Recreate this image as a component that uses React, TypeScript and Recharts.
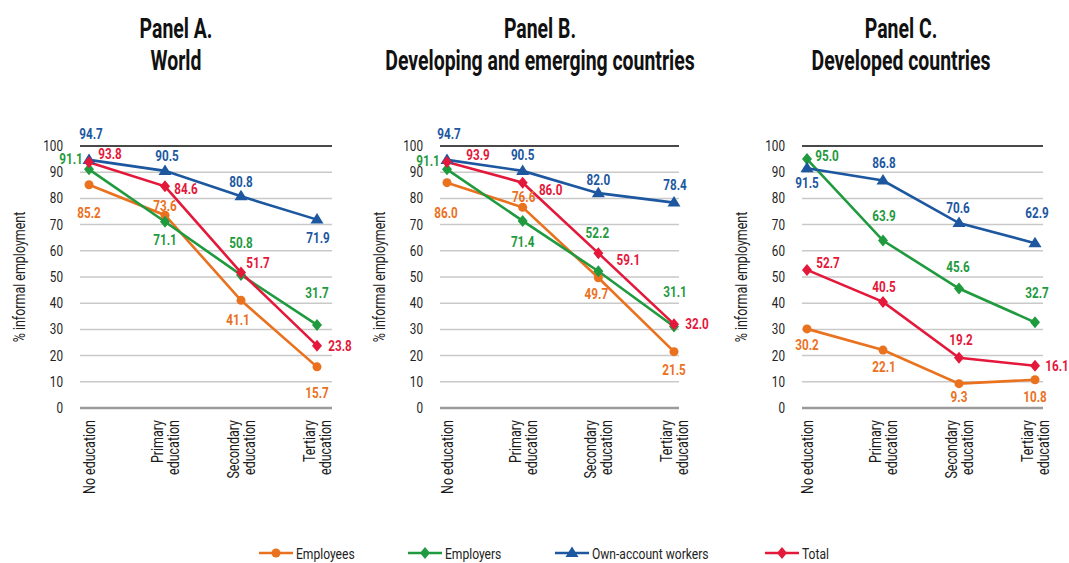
import React from "react";
import {
  CartesianGrid,
  Label,
  LabelList,
  Line,
  LineChart,
  ReferenceLine,
  XAxis,
  YAxis,
} from "recharts";

const categories = [
  "No education",
  "Primary\neducation",
  "Secondary\neducation",
  "Tertiary\neducation",
];
const yTicks = [0, 10, 20, 30, 40, 50, 60, 70, 80, 90, 100];

// Panel A. World
const worldEmployees = [85.2, 73.6, 41.1, 15.7];
const worldEmployers = [91.1, 71.1, 50.8, 31.7];
const worldOwnAccount = [94.7, 90.5, 80.8, 71.9];
const worldTotal = [93.8, 84.6, 51.7, 23.8];

// Panel B. Developing and emerging countries
const devEmployees = [86.0, 76.6, 49.7, 21.5];
const devEmployers = [91.1, 71.4, 52.2, 31.1];
const devOwnAccount = [94.7, 90.5, 82.0, 78.4];
const devTotal = [93.9, 86.0, 59.1, 32.0];

// Panel C. Developed countries
const dedEmployees = [30.2, 22.1, 9.3, 10.8];
const dedEmployers = [95.0, 63.9, 45.6, 32.7];
const dedOwnAccount = [91.5, 86.8, 70.6, 62.9];
const dedTotal = [52.7, 40.5, 19.2, 16.1];

// no condensed font installed, so Roboto gets squeezed horizontally
const FONT = "Roboto, 'Liberation Sans', sans-serif";
const SQUEEZE = 0.78;

type Shape = "circle" | "diamond" | "triangle";

const series: { key: string; name: string; color: string; shape: Shape }[] = [
  { key: "emp", name: "Employees", color: "#EA711E", shape: "circle" },
  { key: "empr", name: "Employers", color: "#1F9A3E", shape: "diamond" },
  { key: "own", name: "Own-account workers", color: "#1C579F", shape: "triangle" },
  { key: "total", name: "Total", color: "#E3183B", shape: "diamond" },
];

function buildData(emp: number[], empr: number[], own: number[], total: number[]) {
  return categories.map((cat, i) => ({
    cat,
    emp: emp[i],
    empr: empr[i],
    own: own[i],
    total: total[i],
  }));
}

// label offsets from each point: [dx, dy]
type Offsets = Record<string, [number, number][]>;

const offsetsA: Offsets = {
  emp: [[0, 28], [0, -9], [-3, 20], [0, 26]],
  empr: [[-18, -10], [0, 18], [0, -32], [0, -32]],
  own: [[2, -26], [2, -15], [0, -14], [1, 18]],
  total: [[21, -8], [21, 3], [17, -10], [23, 0]],
};
const offsetsB: Offsets = {
  emp: [[-1, 30], [1, -10], [-2, 16], [0, 18]],
  empr: [[-19, -8], [0, 21], [-1, -38], [1, -35]],
  own: [[2, -26], [0, -16], [0, -13], [1, -18]],
  total: [[31, -7], [28, 7], [30, 7], [23, 0]],
};
const offsetsC: Offsets = {
  emp: [[0, 16], [1, 17], [0, 13], [0, 17]],
  empr: [[20, -3], [1, -25], [-1, -22], [2, -29]],
  own: [[0, 15], [1, -18], [-1, -15], [2, -30]],
  total: [[21, -7], [1, -15], [2, -18], [22, 0]],
};

function CText({
  x,
  y,
  children,
  anchor = "middle",
  size = 14,
  weight = "normal",
  fill = "#222",
  rotate = 0,
  sx = SQUEEZE,
}: any) {
  return (
    <text
      transform={`translate(${x},${y}) rotate(${rotate}) scale(${sx},1)`}
      textAnchor={anchor}
      dominantBaseline="central"
      fontFamily={FONT}
      fontSize={size}
      fontWeight={weight}
      fill={fill}
    >
      {children}
    </text>
  );
}

function Marker({ cx, cy, shape, color }: any) {
  if (cx == null || cy == null) return null;
  if (shape === "circle") return <circle cx={cx} cy={cy} r={4.5} fill={color} />;
  if (shape === "triangle")
    return (
      <path
        d={`M${cx},${cy - 6.5} L${cx + 6.5},${cy + 4} L${cx - 6.5},${cy + 4} Z`}
        fill={color}
      />
    );
  return (
    <path
      d={`M${cx},${cy - 6} L${cx + 5},${cy} L${cx},${cy + 6} L${cx - 5},${cy} Z`}
      fill={color}
    />
  );
}

function XTick({ x, y, payload }: any) {
  const lines = String(payload.value).split("\n");
  return (
    <g>
      {lines.map((l, i) => (
        <CText
          key={i}
          x={x + (i - (lines.length - 1) / 2) * 16 + 1}
          y={y}
          anchor="end"
          rotate={-90}
          size={16}
          fill="#1a1a1a"
        >
          {l}
        </CText>
      ))}
    </g>
  );
}

function YTick({ x, y, payload }: any) {
  return (
    <CText x={x} y={y} anchor="end" size={15} fill="#222">
      {payload.value}
    </CText>
  );
}

function YTitle({ viewBox }: any) {
  return (
    <CText
      x={viewBox.x - 10}
      y={viewBox.y + viewBox.height / 2}
      rotate={-90}
      size={16}
      fill="#222"
    >
      % informal employment
    </CText>
  );
}

interface PanelProps {
  data: ReturnType<typeof buildData>;
  offsets: Offsets;
  width: number;
  marginLeft: number;
  marginRight: number;
  padding: { left: number; right: number };
}

function Panel({ data, offsets, width, marginLeft, marginRight, padding }: PanelProps) {
  return (
    <LineChart
      width={width}
      height={520}
      data={data}
      margin={{ top: 146, right: marginRight, left: marginLeft, bottom: 12 }}
    >
      <CartesianGrid vertical={false} stroke="#c9c9c9" strokeWidth={1.5} />
      <ReferenceLine y={100} stroke="#1a1a1a" strokeWidth={1.3} />
      <ReferenceLine y={0} stroke="#9a9a9a" strokeWidth={2.5} />
      <XAxis
        dataKey="cat"
        interval={0}
        height={100}
        axisLine={false}
        tickLine={false}
        tickSize={0}
        tickMargin={12}
        padding={padding}
        tick={<XTick />}
      />
      <YAxis
        domain={[0, 100]}
        ticks={yTicks}
        width={50}
        axisLine={false}
        tickLine={false}
        tickSize={0}
        tickMargin={17}
        tick={<YTick />}
      >
        <Label content={<YTitle />} />
      </YAxis>
      {series.map((s) => (
        <Line
          key={s.key}
          dataKey={s.key}
          name={s.name}
          type="linear"
          stroke={s.color}
          strokeWidth={2.6}
          isAnimationActive={false}
          dot={(p: any) => (
            <Marker key={`${s.key}-${p.index}`} cx={p.cx} cy={p.cy} shape={s.shape} color={s.color} />
          )}
          activeDot={false}
        >
          <LabelList
            dataKey={s.key}
            content={(p: any) => {
              const off = offsets[s.key][p.index] || [0, -14];
              return (
                <CText
                  x={Number(p.x) + off[0]}
                  y={Number(p.y) + off[1]}
                  size={15}
                  weight="bold"
                  fill={s.color}
                >
                  {Number(p.value).toFixed(1)}
                </CText>
              );
            }}
          />
        </Line>
      ))}
    </LineChart>
  );
}

function Title({ center, lines }: { center: number; lines: string[] }) {
  return (
    <div
      style={{
        position: "absolute",
        left: center - 300,
        top: 13,
        width: 600,
        textAlign: "center",
        fontFamily: FONT,
        fontWeight: "bold",
        fontSize: 27,
        lineHeight: "32px",
        color: "#111",
        whiteSpace: "nowrap",
        transform: "scaleX(0.72)",
      }}
    >
      {lines.map((l) => (
        <div key={l}>{l}</div>
      ))}
    </div>
  );
}

// legend item positions (icon left edge)
const legendX = [259, 408, 555, 765];

function Legend() {
  return (
    <svg
      width={1069}
      height={22}
      style={{ position: "absolute", left: 0, top: 541 }}
    >
      {series.map((s, i) => (
        <g key={s.key}>
          <line
            x1={legendX[i]}
            y1={12}
            x2={legendX[i] + 34}
            y2={12}
            stroke={s.color}
            strokeWidth={2.6}
          />
          <Marker cx={legendX[i] + 17} cy={12} shape={s.shape} color={s.color} />
          <CText x={legendX[i] + 37} y={12} anchor="start" size={15.5} fill="#222">
            {s.name}
          </CText>
        </g>
      ))}
    </svg>
  );
}

export default function App() {
  const dataA = buildData(worldEmployees, worldEmployers, worldOwnAccount, worldTotal);
  const dataB = buildData(devEmployees, devEmployers, devOwnAccount, devTotal);
  const dataC = buildData(dedEmployees, dedEmployers, dedOwnAccount, dedTotal);

  return (
    <div
      style={{
        position: "absolute",
        left: 0,
        top: 0,
        width: 1069,
        height: 563,
        overflow: "hidden",
        background: "#fff",
      }}
    >
      <Title center={176} lines={["Panel A.", "World"]} />
      <Title center={540} lines={["Panel B.", "Developing and emerging countries"]} />
      <Title center={901} lines={["Panel C.", "Developed countries"]} />

      <div style={{ position: "absolute", left: 0, top: 0 }}>
        <Panel
          data={dataA}
          offsets={offsetsA}
          width={360}
          marginLeft={30}
          marginRight={28}
          padding={{ left: 9, right: 15 }}
        />
      </div>
      <div style={{ position: "absolute", left: 360, top: 0 }}>
        <Panel
          data={dataB}
          offsets={offsetsB}
          width={360}
          marginLeft={30}
          marginRight={41}
          padding={{ left: 7, right: 5 }}
        />
      </div>
      <div style={{ position: "absolute", left: 720, top: 0 }}>
        <Panel
          data={dataC}
          offsets={offsetsC}
          width={349}
          marginLeft={32}
          marginRight={26}
          padding={{ left: 5, right: 8 }}
        />
      </div>

      <Legend />
    </div>
  );
}
